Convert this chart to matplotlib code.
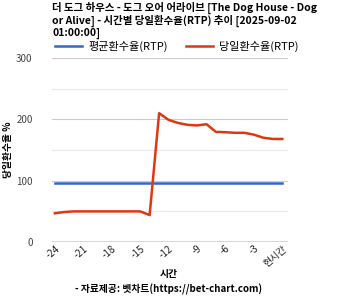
import matplotlib
matplotlib.use("Agg")
import matplotlib.pyplot as plt

plt.rcParams['font.family'] = ['Noto Sans CJK KR', 'DejaVu Sans']

hours = list(range(-24, 1))
avg_rtp = [97] * 25
daily_rtp = [47, 49, 50, 50, 50, 50, 50, 50, 50, 50, 44,
             210, 199, 194, 191, 190, 192, 179.5, 179, 178, 178, 175, 170, 168, 168]
tick_pos = [-24, -21, -18, -15, -12, -9, -6, -3, 0]
tick_labels = ['-24', '-21', '-18', '-15', '-12', '-9', '-6', '-3', '현시간']

fig = plt.figure(figsize=(3.38, 3.0), dpi=100)
ax = fig.add_axes([0.154, 0.193, 0.698, 0.614])

for y in [50, 150, 250]:
    ax.axhline(y, color='#ebebeb', lw=0.8, zorder=0)
for y in [100, 200, 300]:
    ax.axhline(y, color='#cccccc', lw=0.8, zorder=0)
ax.axhline(0, color='#333333', lw=1, zorder=1)

ax.plot(hours, avg_rtp, color='#3366cc', lw=1.8, label='평균환수율(RTP)')
ax.plot(hours, daily_rtp, color='#dc3912', lw=1.8, label='당일환수율(RTP)')

ax.set_xlim(-24.3, 0.6)
ax.set_ylim(0, 300)
ax.set_yticks([0, 100, 200, 300])
ax.tick_params(axis='y', length=0, labelsize=7, labelcolor='#444444', pad=14)
ax.set_xticks(tick_pos)
ax.set_xticklabels(tick_labels, rotation=40, ha='right', rotation_mode='anchor')
ax.tick_params(axis='x', length=0, labelsize=7, labelcolor='#222222', pad=1)
for s in ax.spines.values():
    s.set_visible(False)

ax.set_ylabel('당일환수율 %', fontsize=7, fontweight='bold', labelpad=2)
fig.text(0.5, 0.075, '시간', fontsize=7, fontweight='bold', ha='center')
fig.text(0.5, 0.025, '- 자료제공: 벳차트(https://bet-chart.com)', fontsize=7,
         fontweight='bold', ha='center')

fig.text(0.154, 0.995,
         '더 도그 하우스 - 도그 오어 어라이브 [The Dog House - Dog\nor Alive] - 시간별 당일환수율(RTP) 추이 [2025-09-02\n01:00:00]',
         fontsize=7.5, fontweight='bold', va='top', ha='left', linespacing=1.1)

leg = ax.legend(loc='lower left', bbox_to_anchor=(-0.01, 1.0), ncol=2, frameon=False,
                fontsize=8, handlelength=2.4, columnspacing=1.6, borderaxespad=0.1,
                handletextpad=0.6)
for t in leg.get_texts():
    t.set_fontweight('medium')

fig.savefig('out.png', dpi=100)
